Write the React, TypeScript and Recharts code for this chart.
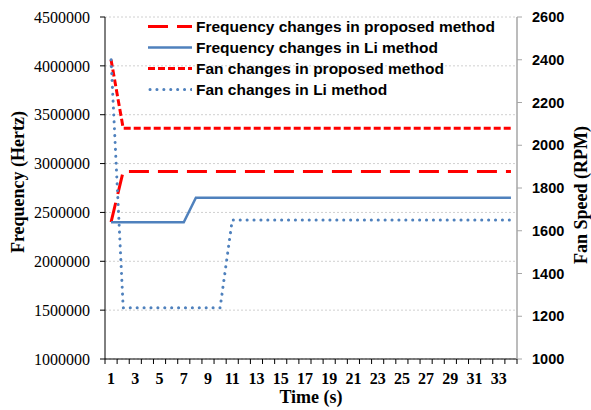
import { LineChart, Line, XAxis, YAxis, CartesianGrid, Legend } from 'recharts'

// time steps (s)
const times = [
  1, 2, 3, 4, 5, 6, 7, 8, 9, 10, 11, 12, 13, 14, 15, 16, 17,
  18, 19, 20, 21, 22, 23, 24, 25, 26, 27, 28, 29, 30, 31, 32, 33, 34,
]

// CPU frequency (Hz), left axis
const freqProposed = [
  2400000, 2920000, 2920000, 2920000, 2920000, 2920000, 2920000, 2920000, 2920000,
  2920000, 2920000, 2920000, 2920000, 2920000, 2920000, 2920000, 2920000, 2920000,
  2920000, 2920000, 2920000, 2920000, 2920000, 2920000, 2920000, 2920000, 2920000,
  2920000, 2920000, 2920000, 2920000, 2920000, 2920000, 2920000,
]
const freqLi = [
  2400000, 2400000, 2400000, 2400000, 2400000, 2400000, 2400000, 2650000, 2650000,
  2650000, 2650000, 2650000, 2650000, 2650000, 2650000, 2650000, 2650000, 2650000,
  2650000, 2650000, 2650000, 2650000, 2650000, 2650000, 2650000, 2650000, 2650000,
  2650000, 2650000, 2650000, 2650000, 2650000, 2650000, 2650000,
]

// fan speed (RPM), right axis
const fanProposed = [
  2400, 2080, 2080, 2080, 2080, 2080, 2080, 2080, 2080, 2080, 2080, 2080, 2080, 2080,
  2080, 2080, 2080, 2080, 2080, 2080, 2080, 2080, 2080, 2080, 2080, 2080, 2080, 2080,
  2080, 2080, 2080, 2080, 2080, 2080,
]
const fanLi = [
  2400, 1240, 1240, 1240, 1240, 1240, 1240, 1240, 1240, 1240, 1650, 1650, 1650, 1650,
  1650, 1650, 1650, 1650, 1650, 1650, 1650, 1650, 1650, 1650, 1650, 1650, 1650, 1650,
  1650, 1650, 1650, 1650, 1650, 1650,
]

const freqTicks = [1000000, 1500000, 2000000, 2500000, 3000000, 3500000, 4000000, 4500000]
const fanTicks = [1000, 1200, 1400, 1600, 1800, 2000, 2200, 2400, 2600]

const seriesNames = {
  freqProposed: 'Frequency changes in proposed method',
  freqLi: 'Frequency changes in Li method',
  fanProposed: 'Fan changes in proposed method',
  fanLi: 'Fan changes in Li method',
}

const RED = '#ff0000'
const BLUE = '#4f81bd'
const SERIF = "'Liberation Serif', 'Times New Roman', serif"
const SANS = "'Liberation Sans', Arial, sans-serif"

const WIDTH = 591
const HEIGHT = 410
const PLOT_LEFT = 105
const PLOT_RIGHT = 517
const PLOT_TOP = 17
const PLOT_BOTTOM = 359
const BAND = (PLOT_RIGHT - PLOT_LEFT) / times.length

const data = times.map((t, i) => ({
  t,
  freqProposed: freqProposed[i],
  freqLi: freqLi[i],
  fanProposed: fanProposed[i],
  fanLi: fanLi[i],
}))

const legendItems = [
  { key: 'freqProposed', color: RED, dash: '20 9', width: 3, cap: 'butt' },
  { key: 'freqLi', color: BLUE, dash: undefined, width: 2.5, cap: 'butt' },
  { key: 'fanProposed', color: RED, dash: '7 3', width: 3, cap: 'butt' },
  { key: 'fanLi', color: BLUE, dash: '0.1 6.8', width: 3, cap: 'round' },
] as const

// category ticks: marks sit on band edges, labels on odd seconds
function TimeTick(props: any) {
  const { x, payload, index } = props
  const left = x - BAND / 2
  return (
    <g>
      <line x1={left} x2={left} y1={PLOT_BOTTOM} y2={PLOT_BOTTOM + 5} stroke="#000" />
      {index === times.length - 1 && (
        <line x1={x + BAND / 2} x2={x + BAND / 2} y1={PLOT_BOTTOM} y2={PLOT_BOTTOM + 5} stroke="#000" />
      )}
      {payload.value % 2 === 1 && (
        <text
          x={x}
          y={PLOT_BOTTOM + 25}
          textAnchor="middle"
          fontFamily={SERIF}
          fontWeight="bold"
          fontSize={16}
          fill="#000"
        >
          {payload.value}
        </text>
      )}
    </g>
  )
}

function renderLegend() {
  return (
    <div style={{ fontFamily: SANS, fontWeight: 'bold', fontSize: 15.5, color: '#000' }}>
      {legendItems.map((item) => (
        <div key={item.key} style={{ display: 'flex', alignItems: 'center', height: 21 }}>
          <svg width={44} height={21} style={{ display: 'block' }}>
            <line
              x1={item.cap === 'round' ? 2 : 0}
              x2={44}
              y1={10.5}
              y2={10.5}
              stroke={item.color}
              strokeWidth={item.width}
              strokeDasharray={item.dash}
              strokeLinecap={item.cap}
            />
          </svg>
          <span style={{ marginLeft: 4, whiteSpace: 'nowrap' }}>
            {seriesNames[item.key]}
          </span>
        </div>
      ))}
    </div>
  )
}

const titleStyle = { fontFamily: SERIF, fontWeight: 'bold' as const, fontSize: 18, fill: '#000' }

export default function App() {
  return (
    <div style={{ width: WIDTH, height: HEIGHT, background: '#fff' }}>
      <style>{'body { margin: 0; }'}</style>
      <LineChart
        width={WIDTH}
        height={HEIGHT}
        data={data}
        margin={{ top: PLOT_TOP, right: 0, bottom: 0, left: 0 }}
      >
        <CartesianGrid
          yAxisId="freq"
          vertical={false}
          stroke="#d0d0d0"
          strokeDasharray="2 2"
        />
        <XAxis
          dataKey="t"
          scale="band"
          interval={0}
          height={HEIGHT - PLOT_BOTTOM}
          axisLine={{ stroke: '#000' }}
          tickLine={false}
          tick={<TimeTick />}
          label={() => (
            <text x={(PLOT_LEFT + PLOT_RIGHT) / 2} y={403} textAnchor="middle" {...titleStyle}>
              Time (s)
            </text>
          )}
        />
        <YAxis
          yAxisId="freq"
          orientation="left"
          width={PLOT_LEFT}
          domain={[1000000, 4500000]}
          ticks={freqTicks}
          interval={0}
          allowDataOverflow
          axisLine={{ stroke: '#000' }}
          tickLine={{ stroke: '#000' }}
          tickSize={5}
          tickMargin={10}
          tick={{ fill: '#000', fontSize: 16, fontFamily: SERIF }}
          label={() => (
            <text
              x={24}
              y={182}
              transform="rotate(-90, 24, 182)"
              textAnchor="middle"
              {...titleStyle}
            >
              Frequency (Hertz)
            </text>
          )}
        />
        <YAxis
          yAxisId="fan"
          orientation="right"
          width={WIDTH - PLOT_RIGHT}
          domain={[1000, 2600]}
          ticks={fanTicks}
          interval={0}
          allowDataOverflow
          axisLine={{ stroke: '#a6a6a6', strokeWidth: 1.5 }}
          tickLine={{ stroke: '#a6a6a6' }}
          tickSize={5}
          tickMargin={10}
          tick={{ fill: '#000', fontSize: 14.5, fontWeight: 'bold', fontFamily: SANS }}
          label={() => (
            <text
              x={587}
              y={195}
              transform="rotate(-90, 587, 195)"
              textAnchor="middle"
              {...titleStyle}
            >
              Fan Speed (RPM)
            </text>
          )}
        />
        <Legend
          layout="horizontal"
          verticalAlign="middle"
          align="center"
          content={renderLegend}
          wrapperStyle={{ left: 148, top: 16, width: 'auto' }}
        />
        <Line
          yAxisId="freq"
          type="linear"
          dataKey="freqProposed"
          name={seriesNames.freqProposed}
          stroke={RED}
          strokeWidth={3}
          strokeDasharray="20 9"
          dot={false}
          isAnimationActive={false}
        />
        <Line
          yAxisId="freq"
          type="linear"
          dataKey="freqLi"
          name={seriesNames.freqLi}
          stroke={BLUE}
          strokeWidth={2.5}
          dot={false}
          isAnimationActive={false}
        />
        <Line
          yAxisId="fan"
          type="linear"
          dataKey="fanProposed"
          name={seriesNames.fanProposed}
          stroke={RED}
          strokeWidth={3}
          strokeDasharray="7 3"
          dot={false}
          isAnimationActive={false}
        />
        <Line
          yAxisId="fan"
          type="linear"
          dataKey="fanLi"
          name={seriesNames.fanLi}
          stroke={BLUE}
          strokeWidth={3}
          strokeDasharray="0.1 6.8"
          strokeLinecap="round"
          dot={false}
          isAnimationActive={false}
        />
      </LineChart>
    </div>
  )
}
